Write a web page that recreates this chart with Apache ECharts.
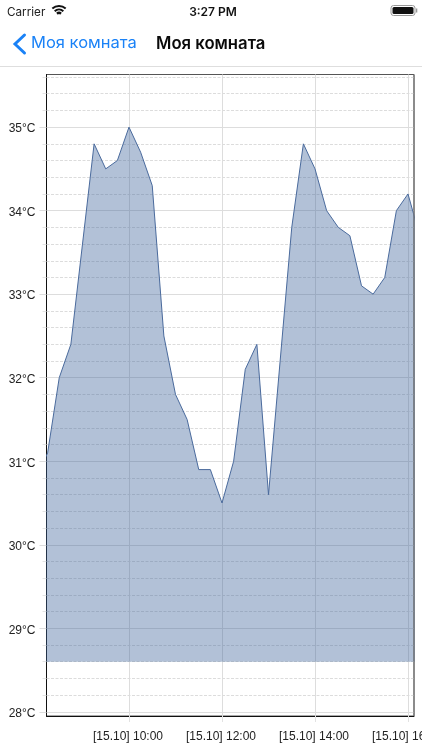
<!DOCTYPE html>
<html>
<head>
<meta charset="utf-8">
<style>html,body{margin:0;padding:0;background:#fff;overflow:hidden}#c{width:422px;height:750px}</style>
<script src="https://cdn.jsdelivr.net/npm/echarts@6/dist/echarts.min.js"></script>
</head>
<body>
<div id="c"></div>
<script>
const times = ["08:00","08:15","08:30","08:45","09:00","09:15","09:30","09:45","10:00","10:15","10:30","10:45","11:00","11:15","11:30","11:45","12:00","12:15","12:30","12:45","13:00","13:15","13:30","13:45","14:00","14:15","14:30","14:45","15:00","15:15","15:30","15:45","16:00","16:15"];
const temps = [30.8,31.1,32,32.4,33.6,34.8,34.5,34.6,35,34.7,34.3,32.5,31.8,31.5,30.9,30.9,30.5,31,32.1,32.4,30.6,32.2,33.8,34.8,34.5,34,33.8,33.7,33.1,33,33.2,34,34.2,33.7];
const timeTicks = ["10:00","12:00","14:00","16:00"];
const dateLabel = "[15.10]";
const majorTemps = [28,29,30,31,32,33,34,35];
const minorTemps = [28.2,28.4,28.6,28.8,29.2,29.4,29.6,29.8,30.2,30.4,30.6,30.8,31.2,31.4,31.6,31.8,32.2,32.4,32.6,32.8,33.2,33.4,33.6,33.8,34.2,34.4,34.6,34.8,35.2,35.4,35.6];
const areaBase = 28.6;
const toMin = s => { const p = s.split(":"); return +p[0]*60 + +p[1]; };
const pad = n => String(n).padStart(2,"0");
const FONT = '"Liberation Sans",Arial,sans-serif';
const UI = 'Inter,"Noto Sans",sans-serif';
const Y_MIN = 27.95, Y_MAX = 35.63, X_MIN = 493.55, X_MAX = 967.74;

const chart = echarts.init(document.getElementById('c'), null, {renderer:'canvas'});
chart.setOption({
  animation:false,
  backgroundColor:'#fff',
  grid:{left:46.5,top:74.5,width:367.5,height:641.5,outerBoundsMode:'none',show:true,borderColor:'#555',borderWidth:1,backgroundColor:'transparent'},
  xAxis:{type:'value',min:X_MIN,max:X_MAX,position:'bottom',
    axisLine:{show:true,onZero:false,lineStyle:{color:'#111',width:1}},
    axisTick:{show:true,length:6,customValues:timeTicks.map(toMin),lineStyle:{color:'#e2e2e2',width:1}},
    splitLine:{show:true,lineStyle:{color:'#ddd',width:1}},
    axisLabel:{customValues:timeTicks.map(toMin),hideOverlap:false,color:'#222',fontFamily:FONT,fontSize:12,margin:15,padding:[0,2,0,0],
      formatter:v=>dateLabel+' '+pad(Math.floor(v/60))+':'+pad(v%60)}},
  yAxis:[
    {type:'value',min:Y_MIN,max:Y_MAX,position:'left',
      axisLine:{show:false},
      axisTick:{show:true,length:4,customValues:minorTemps,lineStyle:{color:'#e4e4e4',width:1}},
      splitLine:{show:true,lineStyle:{color:'#dcdcdc',width:1,type:[3,1.5]}},
      axisLabel:{show:false}},
    {type:'value',min:Y_MIN,max:Y_MAX,position:'left',
      axisLine:{show:true,onZero:false,lineStyle:{color:'#111',width:1}},
      axisTick:{show:true,length:7,customValues:majorTemps,lineStyle:{color:'#ddd',width:1}},
      splitLine:{show:true,lineStyle:{color:'#ddd',width:1}},
      axisLabel:{customValues:majorTemps,hideOverlap:false,color:'#222',fontFamily:FONT,fontSize:12,margin:11,verticalAlign:'top',lineHeight:4,
        formatter:v=>v+'°C'}}
  ],
  series:[{type:'line',yAxisIndex:1,data:times.map((t,i)=>[toMin(t),temps[i]]),symbol:'none',smooth:false,clip:true,
    lineStyle:{color:'#4a6a9c',width:1},
    areaStyle:{color:'rgba(62,100,155,0.4)',opacity:1,origin:areaBase},z:3}],
  graphic:[
    {type:'text',x:7,y:6,style:{text:'Carrier',font:'11.7px '+UI,fill:'#222'}},
    {type:'text',x:213,y:6,style:{text:'3:27 PM',font:'600 12px '+UI,fill:'#111',textAlign:'center'}},
    {type:'arc',shape:{cx:59,cy:16,r:10,startAngle:-2.3,endAngle:-0.84},style:{fill:'none',stroke:'#111',lineWidth:2}},
    {type:'arc',shape:{cx:59,cy:16,r:6.5,startAngle:-2.3,endAngle:-0.84},style:{fill:'none',stroke:'#111',lineWidth:2}},
    {type:'arc',shape:{cx:59,cy:16,r:3,startAngle:-2.3,endAngle:-0.84},style:{fill:'none',stroke:'#111',lineWidth:2.4}},
    {type:'rect',shape:{x:391,y:5.5,width:24,height:10,r:2.5},style:{fill:'none',stroke:'#999',lineWidth:1}},
    {type:'rect',shape:{x:392.5,y:7,width:21,height:7,r:1.5},style:{fill:'#111'}},
    {type:'rect',shape:{x:416,y:8.5,width:1.3,height:4},style:{fill:'#999'}},
    {type:'polyline',shape:{points:[[24.5,35],[15,44],[24.5,53]]},style:{fill:'none',stroke:'#1a82f7',lineWidth:3,lineCap:'round'}},
    {type:'text',x:31,y:35,style:{text:'Моя комната',font:'16.5px '+UI,fill:'#1a82f7'}},
    {type:'text',x:156,y:35,style:{text:'Моя комната',font:'600 16.7px '+UI,fill:'#0a0a0a'}},
    {type:'rect',shape:{x:0,y:66,width:422,height:1},style:{fill:'#dedede'}},
    {type:'rect',shape:{x:413.4,y:74.5,width:1.2,height:641.5},style:{fill:'#777'},z:10}
  ]
});
</script>
</body>
</html>
